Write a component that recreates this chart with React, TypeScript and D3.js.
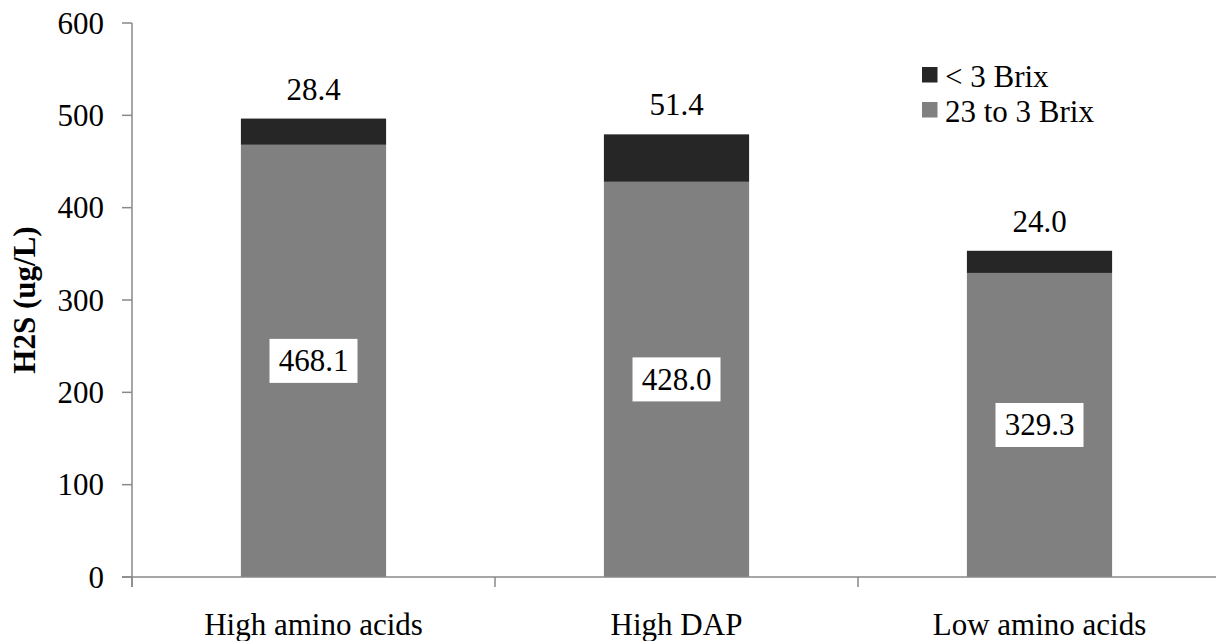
import React from "react";
import * as d3 from "d3";

const categories = ["High amino acids", "High DAP", "Low amino acids"];
const brix23to3 = [468.1, 428.0, 329.3];
const brixBelow3 = [28.4, 51.4, 24.0];
const yTicks = [0, 100, 200, 300, 400, 500, 600];
const legendItems = [
  { label: "< 3 Brix", color: "#262626" },
  { label: "23 to 3 Brix", color: "#808080" },
];

const W = 1216;
const H = 641;
const FONT = "'Liberation Serif', 'Times New Roman', serif";
const AXIS = "#898989";

export default function App() {
  const x = d3
    .scaleBand<string>()
    .domain(categories)
    .range([132, 1221])
    .paddingInner(0.6)
    .paddingOuter(0.3);
  const y = d3.scaleLinear().domain([0, 600]).range([577, 23]);
  const step = x.step();
  const bw = x.bandwidth();
  const catTicks = categories.map((c) => (x(c) as number) - step * 0.3);

  return (
    <svg
      width={W}
      height={H}
      style={{ position: "absolute", left: 0, top: 0, background: "#fff" }}
      fontFamily={FONT}
    >
      {/* bars */}
      {categories.map((c, i) => {
        const x0 = x(c) as number;
        const low = brix23to3[i];
        const high = brixBelow3[i];
        const yMid = y(low);
        const yTop = y(low + high);
        const cx = x0 + bw / 2;
        const segMid = (y(0) + yMid) / 2;
        return (
          <g key={c}>
            <rect x={x0} y={yMid} width={bw} height={y(0) - yMid} fill="#808080" />
            <rect x={x0} y={yTop} width={bw} height={yMid - yTop} fill="#262626" />
            <rect x={cx - 44} y={segMid - 22} width={88} height={44} fill="#fff" />
            <text x={cx} y={segMid + 10.5} textAnchor="middle" fontSize={31} fill="#000">
              {low.toFixed(1)}
            </text>
            <text x={cx} y={yTop - 19} textAnchor="middle" fontSize={31} fill="#000">
              {high.toFixed(1)}
            </text>
          </g>
        );
      })}

      {/* axes */}
      <line x1={132} y1={y(600)} x2={132} y2={587} stroke={AXIS} strokeWidth={1.5} />
      <line x1={122} y1={y(0)} x2={W} y2={y(0)} stroke={AXIS} strokeWidth={1.5} />
      {yTicks.map((t) => (
        <g key={t}>
          <line x1={122} x2={132} y1={y(t)} y2={y(t)} stroke={AXIS} strokeWidth={1.5} />
          <text x={104} y={y(t) + 10.5} textAnchor="end" fontSize={31} fill="#000">
            {t}
          </text>
        </g>
      ))}
      {catTicks.map((t, i) => (
        <line key={i} x1={t} x2={t} y1={y(0)} y2={587} stroke={AXIS} strokeWidth={1.5} />
      ))}
      {categories.map((c) => (
        <text
          key={c}
          x={(x(c) as number) + bw / 2}
          y={635}
          textAnchor="middle"
          fontSize={31}
          fill="#000"
        >
          {c}
        </text>
      ))}

      {/* y title */}
      <text
        transform={`translate(35, 300) rotate(-90)`}
        textAnchor="middle"
        fontSize={31}
        fontWeight="bold"
        fill="#000"
      >
        H2S (ug/L)
      </text>

      {/* legend */}
      {legendItems.map((it, i) => (
        <g key={it.label}>
          <rect x={922} y={67 + i * 35} width={15.5} height={15.5} fill={it.color} />
          <text x={945} y={87 + i * 35} fontSize={31} fill="#000">
            {it.label}
          </text>
        </g>
      ))}
    </svg>
  );
}
